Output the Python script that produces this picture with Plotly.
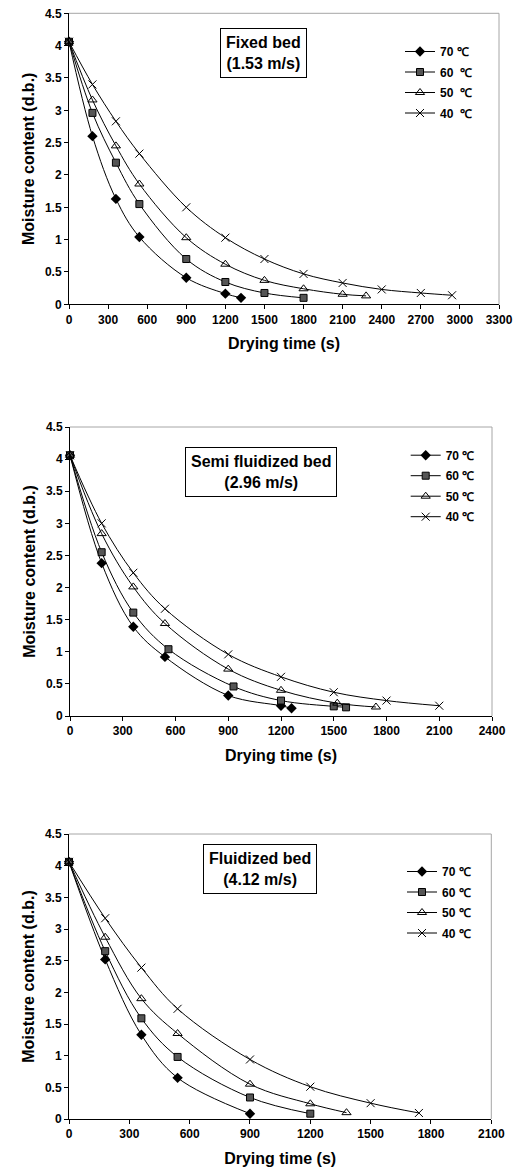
import plotly.graph_objects as go

# ---------------- data ----------------
series_names = ["70 ℃", "60 ℃", "50 ℃", "40 ℃"]
series_names_fixed = ["70 ℃", "60\u00a0\u00a0℃", "50\u00a0\u00a0℃", "40\u00a0\u00a0℃"]

# Fixed bed (1.53 m/s)
fixed_t70 = [0, 180, 360, 540, 900, 1200, 1320]
fixed_m70 = [4.06, 2.60, 1.63, 1.04, 0.41, 0.165, 0.10]
fixed_t60 = [0, 180, 360, 540, 900, 1200, 1500, 1800]
fixed_m60 = [4.06, 2.96, 2.19, 1.55, 0.70, 0.345, 0.175, 0.10]
fixed_t50 = [0, 180, 360, 540, 900, 1200, 1500, 1800, 2100, 2280]
fixed_m50 = [4.06, 3.16, 2.45, 1.86, 1.03, 0.62, 0.37, 0.24, 0.155, 0.13]
fixed_t40 = [0, 180, 360, 540, 900, 1200, 1500, 1800, 2100, 2400, 2700, 2940]
fixed_m40 = [4.06, 3.40, 2.83, 2.33, 1.50, 1.03, 0.70, 0.47, 0.33, 0.23, 0.175, 0.14]

# Semi fluidized bed (2.96 m/s)
semi_t70 = [0, 180, 360, 540, 900, 1200, 1260]
semi_m70 = [4.06, 2.38, 1.39, 0.92, 0.32, 0.16, 0.12]
semi_t60 = [0, 180, 360, 560, 930, 1200, 1500, 1570]
semi_m60 = [4.06, 2.55, 1.61, 1.04, 0.46, 0.24, 0.15, 0.135]
semi_t50 = [0, 180, 360, 540, 900, 1200, 1520, 1740]
semi_m50 = [4.06, 2.84, 2.01, 1.44, 0.73, 0.40, 0.20, 0.14]
semi_t40 = [0, 180, 360, 540, 900, 1200, 1500, 1800, 2100]
semi_m40 = [4.06, 3.00, 2.23, 1.67, 0.96, 0.61, 0.37, 0.24, 0.16]

# Fluidized bed (4.12 m/s)
flu_t70 = [0, 180, 360, 540, 900]
flu_m70 = [4.06, 2.52, 1.33, 0.65, 0.084]
flu_t60 = [0, 180, 360, 540, 900, 1200]
flu_m60 = [4.06, 2.65, 1.59, 0.98, 0.34, 0.084]
flu_t50 = [0, 180, 360, 540, 900, 1200, 1380]
flu_m50 = [4.06, 2.87, 1.90, 1.35, 0.55, 0.24, 0.10]
flu_t40 = [0, 180, 360, 540, 900, 1200, 1500, 1740]
flu_m40 = [4.06, 3.17, 2.39, 1.74, 0.94, 0.51, 0.25, 0.095]

panel_titles = ["Fixed bed<br>(1.53 m/s)", "Semi fluidized bed<br>(2.96 m/s)", "Fluidized bed<br>(4.12 m/s)"]
x_max = [3300, 2400, 2100]
y_ticks = [0, 0.5, 1, 1.5, 2, 2.5, 3, 3.5, 4, 4.5]

panels = [
    [(fixed_t70, fixed_m70), (fixed_t60, fixed_m60), (fixed_t50, fixed_m50), (fixed_t40, fixed_m40)],
    [(semi_t70, semi_m70), (semi_t60, semi_m60), (semi_t50, semi_m50), (semi_t40, semi_m40)],
    [(flu_t70, flu_m70), (flu_t60, flu_m60), (flu_t50, flu_m50), (flu_t40, flu_m40)],
]

# ---------------- styling ----------------
W, H = 513, 1175
FONT = "Liberation Sans, Arial, Helvetica, sans-serif"
markers = [
    dict(symbol="diamond", size=8, color="black", line=dict(color="black", width=0)),
    dict(symbol="square", size=7, color="#555555", line=dict(color="black", width=1)),
    dict(symbol="triangle-up-open", size=8, color="black", line=dict(color="black", width=1)),
    dict(symbol="x-thin-open", size=8, color="black", line=dict(color="black", width=1)),
]

# plot areas in pixels: (left, right, top, bottom)
areas = [(69, 499, 13.3, 304.3), (70, 492, 427, 716), (69, 491.3, 834, 1119)]
boxes = [(263.2, 53.3), (261.3, 472.3), (260, 868.8)]
legend_pos = [(400, 37), (405.7, 440.7), (402, 857)]

fig = go.Figure()
layout = dict(
    template="none",
    width=W, height=H,
    margin=dict(l=0, r=0, t=0, b=0, autoexpand=False),
    paper_bgcolor="white", plot_bgcolor="white",
    font=dict(family=FONT, size=12, color="black", weight="bold"),
    showlegend=True,
)
shapes = []
annotations = []

for p in range(3):
    l, r, t, b = areas[p]
    xd = [l / W, r / W]
    yd = [1 - b / H, 1 - t / H]
    xn = "x" if p == 0 else f"x{p+1}"
    yn = "y" if p == 0 else f"y{p+1}"
    xk = "xaxis" if p == 0 else f"xaxis{p+1}"
    yk = "yaxis" if p == 0 else f"yaxis{p+1}"
    lg = "legend" if p == 0 else f"legend{p+1}"
    names = series_names_fixed if p == 0 else series_names
    for i, (tx, my) in enumerate(panels[p]):
        fig.add_trace(go.Scatter(
            x=tx, y=my, mode="lines+markers", name=names[i],
            line=dict(color="black", width=1, shape="spline"),
            marker=markers[i], xaxis=xn, yaxis=yn, legend=lg,
            cliponaxis=False, legendgroup=f"g{p}_{i}",
        ))
    layout[xk] = dict(
        domain=xd, anchor=yn, range=[0, x_max[p]], dtick=300, tick0=0,
        automargin=False,
        ticks="outside", ticklen=4, tickwidth=1, tickcolor="black",
        showline=True, linecolor="black", linewidth=1,
        showgrid=False, zeroline=False,
        tickfont=dict(size=12, family=FONT, weight="bold"),
        title=dict(text="Drying time (s)", standoff=12,
                   font=dict(size=16, family=FONT, weight="bold")),
    )
    layout[yk] = dict(
        domain=yd, anchor=xn, range=[0, 4.5], tickvals=y_ticks,
        automargin=False,
        ticks="outside", ticklen=4, tickwidth=1, tickcolor="black",
        showline=True, linecolor="black", linewidth=1,
        showgrid=False, zeroline=False,
        tickfont=dict(size=12, family=FONT, weight="bold"),
        title=dict(text="Moisture content (d.b.)", standoff=6,
                   font=dict(size=16, family=FONT, weight="bold")),
    )
    # overlay axis for the small inside ticks
    ok = f"xaxis{p+4}"
    layout[ok] = dict(
        overlaying=xn, anchor=yn, range=[0, x_max[p]], dtick=60, tick0=0,
        automargin=False,
        ticks="inside", ticklen=3, tickwidth=1, tickcolor="black",
        showticklabels=False, showline=False, showgrid=False, zeroline=False,
    )
    # light grey top/right frame
    shapes.append(dict(type="line", xref=f"{xn} domain", yref=f"{yn} domain",
                       x0=0, x1=1, y0=1, y1=1, line=dict(color="#a6a6a6", width=1)))
    shapes.append(dict(type="line", xref=f"{xn} domain", yref=f"{yn} domain",
                       x0=1, x1=1, y0=0, y1=1, line=dict(color="#a6a6a6", width=1)))
    # title box
    bx, by = boxes[p]
    annotations.append(dict(
        text=panel_titles[p], x=bx / W, y=1 - by / H, xref="paper", yref="paper",
        xanchor="center", yanchor="middle", showarrow=False, align="center",
        font=dict(size=16, family=FONT, weight="bold", color="black"),
        bordercolor="black", borderwidth=1, borderpad=5, bgcolor="white",
    ))
    lx, ly = legend_pos[p]
    layout[lg] = dict(
        x=lx / W, y=1 - ly / H, xanchor="left", yanchor="top",
        bgcolor="rgba(0,0,0,0)", borderwidth=0, tracegroupgap=1.5,
        font=dict(size=12, family=FONT, weight="bold", color="black"),
        itemclick=False, itemdoubleclick=False,
    )

layout["shapes"] = shapes
layout["annotations"] = annotations
fig.update_layout(**layout)
fig.write_html(
    "out.html",
    config={"displayModeBar": False},
    post_script="document.body.style.margin='0';document.body.style.overflow='hidden';",
)
